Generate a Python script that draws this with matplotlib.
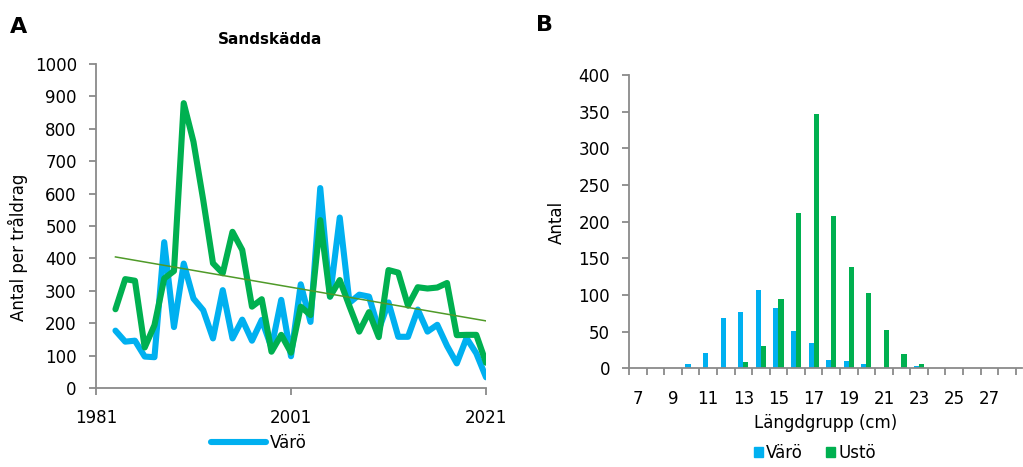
import matplotlib
matplotlib.use("Agg")
import matplotlib.pyplot as plt
import matplotlib.lines as mlines
import matplotlib.patches as mpatches
import numpy as np

# --- data panel A: Sandskädda, antal per tråldrag ---
ar = list(range(1983, 2022))
varo = [177, 143, 146, 97, 95, 450, 188, 384, 276, 240,
        153, 302, 153, 211, 146, 210, 125, 272, 98, 320,
        204, 617, 282, 526, 263, 288, 282, 180, 264, 158,
        158, 242, 174, 195, 130, 76, 154, 107, 33]
usto = [243, 336, 331, 125, 194, 338, 361, 879, 760, 580,
        385, 354, 482, 426, 251, 274, 112, 164, 109, 251,
        225, 518, 282, 333, 252, 174, 234, 157, 364, 356,
        254, 311, 307, 310, 324, 163, 164, 164, 78]

# --- data panel B: längdfördelning ---
langd = list(range(7, 29))
varo_n = [0, 0, 0, 6, 21, 68, 77, 107, 82, 51, 34, 11, 10, 6, 1, 1, 3, 0, 0, 0, 0, 0]
usto_n = [0, 0, 0, 0, 0, 0, 9, 30, 95, 212, 347, 207, 138, 103, 52, 19, 6, 0, 1, 0, 0, 0]

BLA = "#00B0F0"
GRON = "#00B050"
TREND = "#4f9a28"
GRA = "#8a8a8a"

plt.rcParams['font.family'] = ['DejaVu Sans']
plt.rcParams['font.size'] = 12

fig = plt.figure(figsize=(10.23, 4.67), dpi=100)


def stil(ax):
    for s in ['top', 'right']:
        ax.spines[s].set_visible(False)
    for s in ['left', 'bottom']:
        ax.spines[s].set_color(GRA)
        ax.spines[s].set_linewidth(1.3)
    ax.tick_params(color=GRA, width=1.3, length=4.8, labelsize=12)


# ---------- A ----------
axA = fig.add_axes([0.0938, 0.1692, 0.3813, 0.6938])
axA.plot(ar, varo, color=BLA, lw=4.4, solid_joinstyle='round', solid_capstyle='round', zorder=2)
axA.plot(ar, usto, color=GRON, lw=4.4, solid_joinstyle='round', solid_capstyle='round', zorder=3)
# linjär trend (Ustö)
k, m = np.polyfit(ar, usto, 1)
tx = np.array([ar[0], ar[-1]])
axA.plot(tx, k * tx + m, color=TREND, lw=1.1, zorder=4)
axA.set_xlim(1981, 2021)
axA.set_ylim(0, 1000)
axA.set_xticks([1981, 2001, 2021])
axA.set_yticks(range(0, 1001, 100))
stil(axA)
axA.tick_params(axis='x', pad=10)
axA.tick_params(axis='y', pad=9)
fig.text(18 / 1023, 1 - 247 / 467, "Antal per tråldrag", rotation=90, ha='center', va='center', fontsize=12)
fig.text(270 / 1023, 1 - 39 / 467, "Sandskädda", ha='center', va='center', fontsize=11, fontweight='bold')
fig.text(10 / 1023, 1 - 27 / 467, "A", ha='left', va='center', fontsize=16, fontweight='heavy')

hA = mlines.Line2D([], [], color=BLA, lw=4.4, solid_capstyle='round')
fig.legend(handles=[hA], labels=["Värö"], loc='center', bbox_to_anchor=(259 / 1023, 1 - 443 / 467),
           frameon=False, handlelength=3.3, handletextpad=0.25, fontsize=12)

# ---------- B ----------
axB = fig.add_axes([0.6149, 0.2114, 0.3842, 0.6281])
x = np.array(langd)
w = 0.29
axB.bar(x - w / 2, varo_n, width=w, color=BLA, zorder=2)
axB.bar(x + w / 2, usto_n, width=w, color=GRON, zorder=2)
axB.set_xlim(6.5, 28.86)
axB.set_ylim(0, 400)
axB.set_yticks(range(0, 401, 50))
axB.set_xticks(np.arange(6.5, 28.6, 1.0))
axB.set_xticklabels([])
axB.set_xticks(langd[::2], minor=True)
axB.set_xticklabels([str(v) for v in langd[::2]], minor=True)
stil(axB)
axB.tick_params(axis='x', which='minor', length=0, pad=16, labelsize=12)
axB.tick_params(axis='y', pad=9)
axB.spines['bottom'].set_zorder(3)
axB.set_xlabel("Längdgrupp (cm)", fontsize=12, labelpad=4)
fig.text(557 / 1023, 1 - 222 / 467, "Antal", rotation=90, ha='center', va='center', fontsize=12)
fig.text(536 / 1023, 1 - 25 / 467, "B", ha='left', va='center', fontsize=16, fontweight='heavy')

hB = [mpatches.Patch(color=BLA), mpatches.Patch(color=GRON)]
fig.legend(handles=hB, labels=["Värö", "Ustö"], loc='center', bbox_to_anchor=(815 / 1023, 1 - 453 / 467),
           ncol=2, frameon=False, handlelength=0.55, handleheight=0.55, handletextpad=0.2,
           columnspacing=1.4, fontsize=12)

fig.savefig("out.png", dpi=100)
